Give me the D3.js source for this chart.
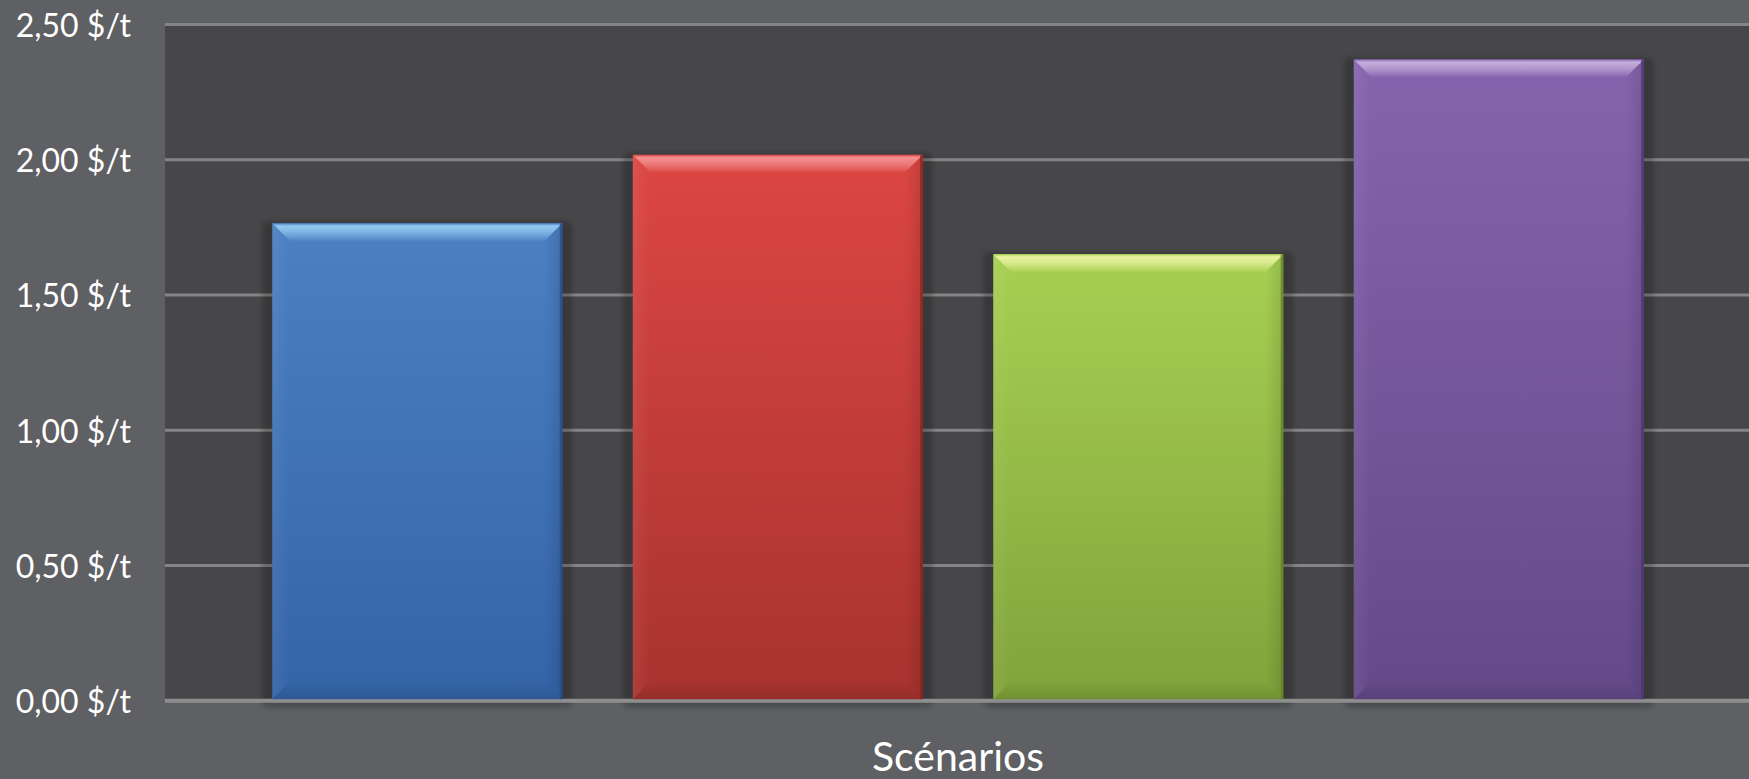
<!DOCTYPE html>
<html>
<head>
<meta charset="utf-8">
<script src="https://cdn.jsdelivr.net/npm/d3@7"></script>
<style>
  html, body { margin: 0; padding: 0; background: #5f6063; }
  svg { display: block; }
</style>
</head>
<body>
<svg id="chart" width="1749" height="779"></svg>
<script>
// ---- data ----
const categories = ["Scénario 1", "Scénario 2", "Scénario 3", "Scénario 4"];
const values = [1.765, 2.018, 1.651, 2.371];
const yTicks = [0, 0.5, 1.0, 1.5, 2.0, 2.5];
const yTickLabels = ["0,00 $/t", "0,50 $/t", "1,00 $/t", "1,50 $/t", "2,00 $/t", "2,50 $/t"];
const xAxisTitle = "Scénarios";
// colour per bar: [top, bottom, highlight, edge]
const barColors = [
  ["#4b80c2", "#3464a7", "#92c9f0", "#264f8a"],
  ["#dc4643", "#a8332f", "#f49090", "#86231f"],
  ["#a7d052", "#81a33b", "#eaf3a2", "#62832a"],
  ["#8664ad", "#644989", "#c4aedc", "#4d3472"]
];

const W = 1749, H = 779;
const plot = { left: 165, right: 1751, top: 24.5, bottom: 700.7 };

const svg = d3.select("#chart");
const defs = svg.append("defs");

const x = d3.scaleBand().domain(categories).range([plot.left, plot.right])
  .paddingInner(0.1956).paddingOuter(0.2975);
const y = d3.scaleLinear().domain([0, 2.5]).range([plot.bottom, plot.top]);

// background
svg.append("rect").attr("x", 0).attr("y", 0).attr("width", W).attr("height", H).attr("fill", "#5f6063");
svg.append("rect").attr("x", plot.left).attr("y", y(2.5)).attr("width", W - plot.left)
  .attr("height", y(0) - y(2.5)).attr("fill", "#474749");

// gridlines
svg.append("g").selectAll("line").data(yTicks.filter(d => d > 0)).join("line")
  .attr("x1", plot.left).attr("x2", W)
  .attr("y1", d => y(d)).attr("y2", d => y(d))
  .attr("stroke", "#858587").attr("stroke-width", 3);

// shadow filter
const f = defs.append("filter").attr("id", "blur").attr("x", "-20%").attr("y", "-20%")
  .attr("width", "140%").attr("height", "140%");
f.append("feGaussianBlur").attr("stdDeviation", 2.5);

// gradients
barColors.forEach((c, i) => {
  const g = defs.append("linearGradient").attr("id", "body" + i)
    .attr("x1", 0).attr("y1", 0).attr("x2", 0).attr("y2", 1);
  g.append("stop").attr("offset", "0%").attr("stop-color", c[0]);
  g.append("stop").attr("offset", "100%").attr("stop-color", c[1]);
  const t = defs.append("linearGradient").attr("id", "top" + i)
    .attr("x1", 0).attr("y1", 0).attr("x2", 0).attr("y2", 1);
  t.append("stop").attr("offset", "0%").attr("stop-color", c[0]);
  t.append("stop").attr("offset", "15%").attr("stop-color", c[2]);
  t.append("stop").attr("offset", "40%").attr("stop-color", c[2]).attr("stop-opacity", 0.8);
  t.append("stop").attr("offset", "100%").attr("stop-color", c[0]);
});
// side bevel gradients
const lg = defs.append("linearGradient").attr("id", "leftBev").attr("x1", 0).attr("x2", 1).attr("y1", 0).attr("y2", 0);
lg.append("stop").attr("offset", "0%").attr("stop-color", "#fff").attr("stop-opacity", 0.06);
lg.append("stop").attr("offset", "100%").attr("stop-color", "#fff").attr("stop-opacity", 0.0);
const rg = defs.append("linearGradient").attr("id", "rightBev").attr("x1", 0).attr("x2", 1).attr("y1", 0).attr("y2", 0);
rg.append("stop").attr("offset", "0%").attr("stop-color", "#000").attr("stop-opacity", 0.0);
rg.append("stop").attr("offset", "100%").attr("stop-color", "#000").attr("stop-opacity", 0.12);
const btg = defs.append("linearGradient").attr("id", "botBev").attr("x1", 0).attr("x2", 0).attr("y1", 0).attr("y2", 1);
btg.append("stop").attr("offset", "0%").attr("stop-color", "#000").attr("stop-opacity", 0.0);
btg.append("stop").attr("offset", "100%").attr("stop-color", "#000").attr("stop-opacity", 0.12);

const bars = categories.map((c, i) => ({ c, v: values[i], i }));
const bw = x.bandwidth();
const bev = 18;

// shadows
const sh = svg.append("g");
sh.selectAll("rect").data(bars).join("rect")
  .attr("x", d => x(d.c) - 10).attr("width", bw + 20)
  .attr("y", d => y(d.v) - 2).attr("height", d => y(0) - y(d.v) + 9)
  .attr("rx", 6)
  .attr("fill", "#000").attr("opacity", 0.2).attr("filter", "url(#blur)");

// axis line
svg.append("line").attr("x1", plot.left).attr("x2", W)
  .attr("y1", y(0)).attr("y2", y(0))
  .attr("stroke", "#8e8e8f").attr("stroke-width", 4);

// bars
const bg = svg.append("g").selectAll("g").data(bars).join("g");
bg.append("rect")
  .attr("x", d => x(d.c)).attr("width", bw)
  .attr("y", d => y(d.v)).attr("height", d => y(0) - 1.5 - y(d.v))
  .attr("fill", d => `url(#body${d.i})`);
// left bevel
bg.append("polygon").attr("points", d => {
  const x0 = x(d.c), y0 = y(d.v), y1 = y(0) - 1.5;
  return [[x0, y0], [x0 + bev, y0 + bev], [x0 + bev, y1 - bev], [x0, y1]].join(" ");
}).attr("fill", "url(#leftBev)");
// right bevel
bg.append("polygon").attr("points", d => {
  const x1 = x(d.c) + bw, y0 = y(d.v), y1 = y(0) - 1.5;
  return [[x1, y0], [x1 - bev, y0 + bev], [x1 - bev, y1 - bev], [x1, y1]].join(" ");
}).attr("fill", "url(#rightBev)");
// bottom bevel
bg.append("polygon").attr("points", d => {
  const x0 = x(d.c), x1 = x0 + bw, y1 = y(0) - 1.5;
  return [[x0, y1], [x0 + bev, y1 - bev], [x1 - bev, y1 - bev], [x1, y1]].join(" ");
}).attr("fill", "url(#botBev)");
// top bevel
bg.append("polygon").attr("points", d => {
  const x0 = x(d.c), x1 = x0 + bw, y0 = y(d.v);
  return [[x0, y0], [x1, y0], [x1 - bev, y0 + bev], [x0 + bev, y0 + bev]].join(" ");
}).attr("fill", d => `url(#top${d.i})`);
// right edge dark line
bg.append("rect")
  .attr("x", d => x(d.c) + bw - 2.5).attr("width", 2.5)
  .attr("y", d => y(d.v)).attr("height", d => y(0) - 1.5 - y(d.v))
  .attr("fill", d => barColors[d.i][3]).attr("opacity", 0.8);

// y tick labels
svg.append("g").selectAll("text").data(yTicks).join("text")
  .attr("x", 131).attr("y", d => y(d))
  .attr("text-anchor", "end").attr("dominant-baseline", "central")
  .attr("font-family", "Lato, 'Open Sans', sans-serif").attr("font-size", 32)
  .attr("fill", "#ffffff")
  .text((d, i) => yTickLabels[i]);

// x axis title
svg.append("text").attr("x", (plot.left + plot.right) / 2).attr("y", 771)
  .attr("text-anchor", "middle")
  .attr("font-family", "Lato, 'Open Sans', sans-serif").attr("font-size", 41)
  .attr("fill", "#ffffff").text(xAxisTitle);
</script>
</body>
</html>
